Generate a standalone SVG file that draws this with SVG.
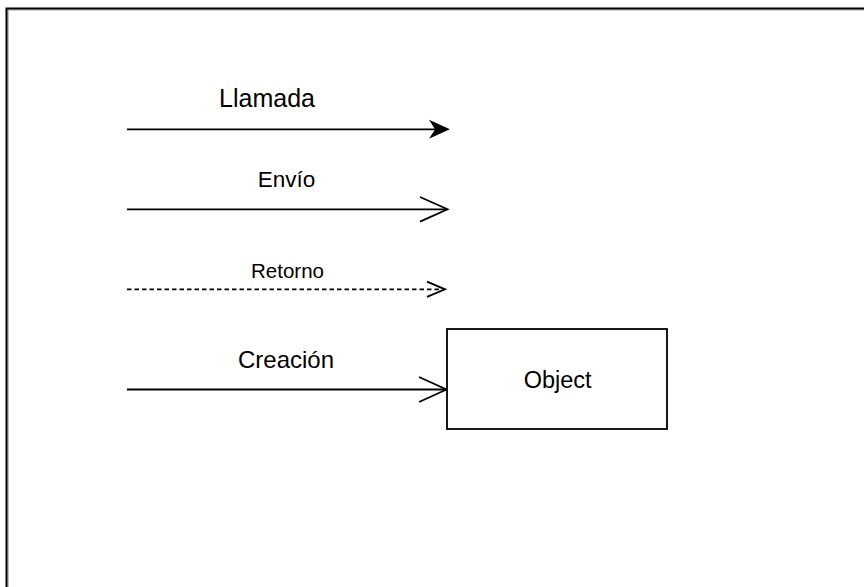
<svg xmlns="http://www.w3.org/2000/svg" width="864" height="587" viewBox="0 0 864 587">
  <style>
    .lbl { font-family: "Liberation Sans", Arial, sans-serif; fill: #000; text-anchor: middle; }
    .edge { stroke: #000; stroke-width: 1.8; fill: none; }
    .open { stroke: #000; stroke-width: 1.8; fill: none; stroke-linejoin: miter; }
  </style>
  <rect x="0" y="0" width="864" height="587" fill="#fff"/>
  <g id="frame">
    <path d="M8,587 V10 H864" fill="none" stroke="#999" stroke-width="1.2"/>
    <path d="M6.5,587 V8.5 H864" fill="none" stroke="#000" stroke-width="2"/>
  </g>
  <g id="connectors">
    <g id="llamada">
      <line class="edge" x1="127" y1="129.3" x2="438" y2="129.3"/>
      <path d="M448,129.3 L431,121.5 L436,129.3 L431,137.1 Z" fill="#000" stroke="#000" stroke-width="1.5" stroke-linejoin="miter"/>
      <text class="lbl" x="267" y="107" font-size="25">Llamada</text>
    </g>
    <g id="envio">
      <line class="edge" x1="127" y1="209.3" x2="447" y2="209.3"/>
      <path class="open" d="M420,197 L447.5,209.3 L420,221.6"/>
      <text class="lbl" x="286.5" y="187" font-size="22.5">Envío</text>
    </g>
    <g id="retorno">
      <line class="edge" x1="127" y1="289.3" x2="444" y2="289.3" stroke-dasharray="4.5 3"/>
      <path class="open" d="M427,281.7 L445,289.3 L427,296.9"/>
      <text class="lbl" x="287.5" y="278" font-size="20.5">Retorno</text>
    </g>
    <g id="creacion">
      <line class="edge" x1="127" y1="389.5" x2="446" y2="389.5"/>
      <path class="open" d="M419,377 L446.5,389.5 L419,402"/>
      <text class="lbl" x="286" y="368" font-size="24">Creación</text>
    </g>
  </g>
  <g id="object">
    <rect x="447" y="329" width="220" height="100" fill="#fff" stroke="#000" stroke-width="1.8"/>
    <text class="lbl" x="557.7" y="388.3" font-size="23.5">Object</text>
  </g>
</svg>
